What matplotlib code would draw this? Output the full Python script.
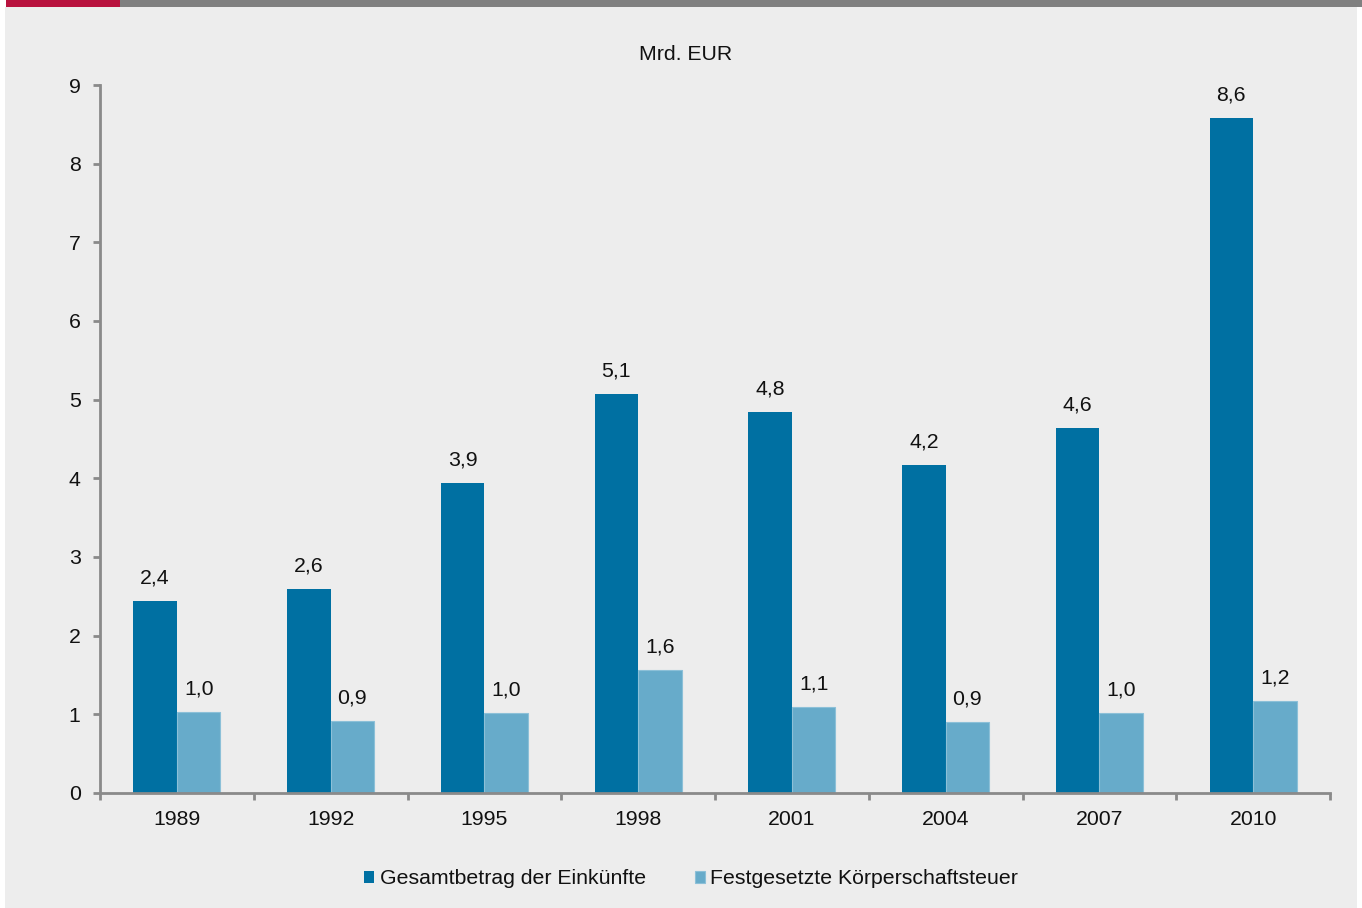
import matplotlib
matplotlib.use("Agg")
import matplotlib.pyplot as plt
from matplotlib.patches import Rectangle
import numpy as np

plt.rcParams['font.family'] = ['Liberation Sans', 'DejaVu Sans']

years = ["1989", "1992", "1995", "1998", "2001", "2004", "2007", "2010"]
gesamtbetrag = [2.44, 2.59, 3.94, 5.07, 4.84, 4.17, 4.64, 8.58]
koerperschaftsteuer = [1.03, 0.915, 1.02, 1.56, 1.09, 0.90, 1.02, 1.17]
series_names = ["Gesamtbetrag der Einkünfte", "Festgesetzte Körperschaftsteuer"]
unit_label = "Mrd. EUR"

W, H = 1362, 908
FS = 15.3
fig = plt.figure(figsize=(W / 100, H / 100), dpi=100, facecolor='white')

# background panel and top bar
fig.patches.append(Rectangle((5 / W, 0), (1357 - 5) / W, 1 - 7 / H, transform=fig.transFigure,
                             facecolor='#EDEDED', edgecolor='none', zorder=-10))
fig.patches.append(Rectangle((6 / W, 1 - 7 / H), (120 - 6) / W, 7 / H, transform=fig.transFigure,
                             facecolor='#B8123E', edgecolor='none', zorder=-9))
fig.patches.append(Rectangle((120 / W, 1 - 7 / H), (W - 120) / W, 7 / H, transform=fig.transFigure,
                             facecolor='#808080', edgecolor='none', zorder=-9))

ax = fig.add_axes([100 / W, 1 - 793 / H, (1330 - 100) / W, (793 - 85) / H])
ax.set_facecolor('none')

dark = '#0070A2'
light = '#67ABCA'
x = np.arange(len(years))
bw = 0.283
b1 = ax.bar(x - bw / 2, gesamtbetrag, width=bw, color=dark, label=series_names[0])
b2 = ax.bar(x + bw / 2, koerperschaftsteuer, width=bw, color=light, edgecolor='#8CC0D8',
            linewidth=0.8, label=series_names[1])

def fmt(v):
    return f"{v:.1f}".replace('.', ',')

for xi, v in zip(x - bw / 2, gesamtbetrag):
    ax.annotate(fmt(v), (xi, v), xytext=(0, 16.5), textcoords='offset points',
                ha='center', va='center', fontsize=FS, color='#111111')
for xi, v in zip(x + bw / 2, koerperschaftsteuer):
    ax.annotate(fmt(v), (xi, v), xytext=(0, 16.5), textcoords='offset points',
                ha='center', va='center', fontsize=FS, color='#111111')

ax.set_xlim(-0.5, len(years) - 0.5)
ax.set_ylim(0, 9)
ax.set_yticks(range(0, 10))
ax.set_xticks(x)
ax.set_xticklabels(years)
ax.set_xticks(np.arange(-0.5, len(years)), minor=True)

spine_col = '#8A8A8A'
for s in ['top', 'right']:
    ax.spines[s].set_visible(False)
for s in ['left', 'bottom']:
    ax.spines[s].set_color(spine_col)
    ax.spines[s].set_linewidth(2)

ax.tick_params(axis='x', which='major', length=0, pad=12, labelsize=FS, labelcolor='#111111')
ax.tick_params(axis='x', which='minor', length=5, width=2, color=spine_col, direction='out')
ax.tick_params(axis='y', length=5, width=2, color=spine_col, pad=9, labelsize=FS,
               labelcolor='#111111')

fig.text(686 / W, 1 - 54 / H, unit_label, ha='center', va='center', fontsize=FS, color='#111111')

fig.legend(handles=[b1, b2], labels=series_names, loc='center',
           bbox_to_anchor=(691 / W, 1 - 879 / H), ncol=2, frameon=False,
           fontsize=FS, handlelength=0.5, handleheight=0.5, handletextpad=0.25,
           columnspacing=2.3, labelcolor='#111111')

fig.savefig('out.png', dpi=100, facecolor='white')
